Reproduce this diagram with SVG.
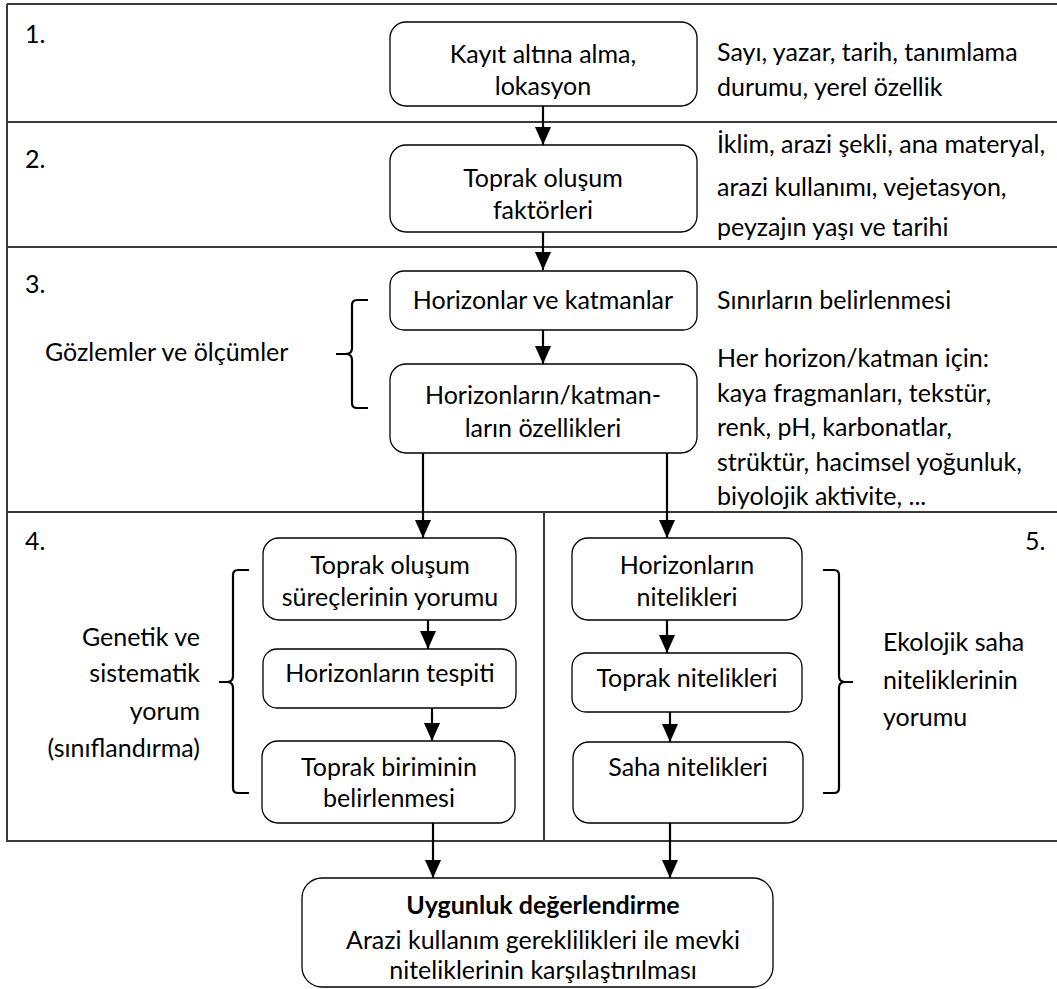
<svg xmlns="http://www.w3.org/2000/svg" width="1057" height="989" viewBox="0 0 1057 989">
<defs>
<marker id="ah" markerWidth="18" markerHeight="16" refX="18" refY="8" orient="auto" markerUnits="userSpaceOnUse" viewBox="0 0 18 16">
<path d="M0,0 L18,8 L0,16 Z" fill="#000"/>
</marker>
<style>
text{font-family:Lato,"Liberation Sans",sans-serif;font-size:25px;fill:#000}
.c{text-anchor:middle}
.r{text-anchor:end}
.b{font-weight:bold}
.box{fill:#fff;stroke:#000;stroke-width:1.3}
.frame{fill:none;stroke:#3a3a3a;stroke-width:2}
.conn{fill:none;stroke:#000;stroke-width:2.2}
.brace{fill:none;stroke:#000;stroke-width:2.2}
</style>
</defs>
<rect width="1057" height="989" fill="#fff"/>
<g id="frame">
<path class="frame" d="M7,4 H1057 M7,4 V841 H1057 M7,122 H1057 M7,247 H1057 M7,512 H1057 M544,512 V841"/>
</g>
<g id="section-labels">
<text x="25" y="43">1.</text>
<text x="25" y="168">2.</text>
<text x="25" y="293">3.</text>
<text x="25" y="550">4.</text>
<text x="1025" y="550">5.</text>
</g>
<g id="connectors">
<path class="conn" marker-end="url(#ah)" d="M543,106 V145"/>
<path class="conn" marker-end="url(#ah)" d="M543,232 V270"/>
<path class="conn" marker-end="url(#ah)" d="M543,330 V364"/>
<path class="conn" marker-end="url(#ah)" d="M423,453 V538"/>
<path class="conn" marker-end="url(#ah)" d="M667,453 V538"/>
<path class="conn" marker-end="url(#ah)" d="M428,620 V649"/>
<path class="conn" marker-end="url(#ah)" d="M432,708 V741"/>
<path class="conn" marker-end="url(#ah)" d="M667,620 V653"/>
<path class="conn" marker-end="url(#ah)" d="M670,712 V742"/>
<path class="conn" marker-end="url(#ah)" d="M433,823 V878"/>
<path class="conn" marker-end="url(#ah)" d="M670,823 V878"/>
</g>
<g id="n1">
<rect class="box" x="390" y="22" width="307" height="84" rx="16"/>
<text class="c" x="543" y="63">Kayıt altına alma,</text>
<text class="c" x="543" y="95">lokasyon</text>
</g>
<g id="n1-note">
<text x="717" y="61">Sayı, yazar, tarih, tanımlama</text>
<text x="717" y="96">durumu, yerel özellik</text>
</g>
<g id="n2">
<rect class="box" x="390" y="145" width="307" height="87" rx="16"/>
<text class="c" x="543" y="187">Toprak oluşum</text>
<text class="c" x="543" y="219">faktörleri</text>
</g>
<g id="n2-note">
<text x="717" y="153">İklim, arazi şekli, ana materyal,</text>
<text x="717" y="196">arazi kullanımı, vejetasyon,</text>
<text x="717" y="236">peyzajın yaşı ve tarihi</text>
</g>
<g id="n3">
<rect class="box" x="390" y="271" width="307" height="59" rx="14"/>
<text class="c" x="543" y="309">Horizonlar ve katmanlar</text>
</g>
<g id="n3-note">
<text x="717" y="309">Sınırların belirlenmesi</text>
</g>
<g id="n4">
<rect class="box" x="390" y="364" width="307" height="89" rx="16"/>
<text class="c" x="543" y="404">Horizonların/katman-</text>
<text class="c" x="543" y="437">ların özellikleri</text>
</g>
<g id="n4-note">
<text x="717" y="367">Her horizon/katman için:</text>
<text x="717" y="402">kaya fragmanları, tekstür,</text>
<text x="717" y="436">renk, pH, karbonatlar,</text>
<text x="717" y="471">strüktür, hacimsel yoğunluk,</text>
<text x="717" y="505">biyolojik aktivite, ...</text>
</g>
<g id="brace3">
<path class="brace" d="M368,300 H357 Q352,300 352,305 V348 Q352,354 346,354 H336 M346,354 Q352,354 352,360 V403 Q352,408 357,408 H368"/>
<text x="45" y="361">Gözlemler ve ölçümler</text>
</g>
<g id="n5">
<rect class="box" x="263" y="538" width="253" height="82" rx="16"/>
<text class="c" x="390" y="574">Toprak oluşum</text>
<text class="c" x="390" y="606">süreçlerinin yorumu</text>
</g>
<g id="n6">
<rect class="box" x="263" y="649" width="253" height="59" rx="14"/>
<text class="c" x="390" y="682">Horizonların tespiti</text>
</g>
<g id="n7">
<rect class="box" x="262" y="741" width="253" height="82" rx="16"/>
<text class="c" x="389" y="776">Toprak biriminin</text>
<text class="c" x="389" y="807">belirlenmesi</text>
</g>
<g id="brace4">
<path class="brace" d="M249,570 H238 Q233,570 233,575 V676 Q233,682 227,682 H219 M227,682 Q233,682 233,688 V788 Q233,793 238,793 H249"/>
<text class="r" x="200" y="646">Genetik ve</text>
<text class="r" x="200" y="682">sistematik</text>
<text class="r" x="200" y="720">yorum</text>
<text class="r" x="200" y="757">(sınıflandırma)</text>
</g>
<g id="n8">
<rect class="box" x="572" y="538" width="230" height="82" rx="16"/>
<text class="c" x="687" y="574">Horizonların</text>
<text class="c" x="687" y="606">nitelikleri</text>
</g>
<g id="n9">
<rect class="box" x="572" y="653" width="230" height="59" rx="14"/>
<text class="c" x="687" y="687">Toprak nitelikleri</text>
</g>
<g id="n10">
<rect class="box" x="573" y="742" width="230" height="81" rx="16"/>
<text class="c" x="688" y="776">Saha nitelikleri</text>
</g>
<g id="brace5">
<path class="brace" d="M823,570 H834 Q839,570 839,575 V676 Q839,682 845,682 H853 M845,682 Q839,682 839,688 V788 Q839,793 834,793 H823"/>
<text x="883" y="651">Ekolojik saha</text>
<text x="883" y="689">niteliklerinin</text>
<text x="883" y="726">yorumu</text>
</g>
<g id="n11">
<rect class="box" x="302" y="878" width="471" height="109" rx="20"/>
<text class="c b" x="543" y="914">Uygunluk değerlendirme</text>
<text class="c" x="543" y="949">Arazi kullanım gereklilikleri ile mevki</text>
<text class="c" x="543" y="979">niteliklerinin karşılaştırılması</text>
</g>
</svg>
